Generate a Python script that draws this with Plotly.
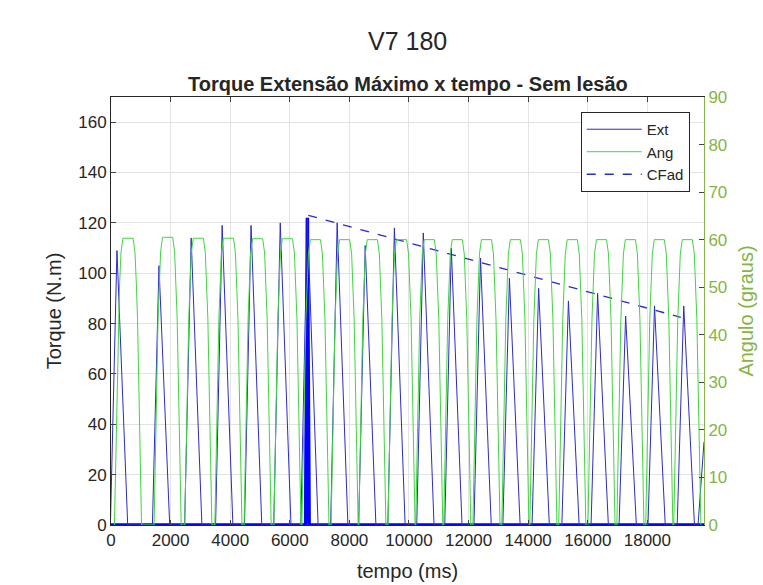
import plotly.graph_objects as go

# ---- data ----
# Ext (torque) cycles: peak time (ms) and peak torque (N.m)
ext_peak_t = [200, 1610, 2690, 3730, 4700, 5680, 6590, 7590, 8530, 9510,
              10480, 11420, 12400, 13370, 14350, 15350, 16330, 17270, 18240, 19220]
ext_peak_v = [109, 103, 114, 119, 119, 120, 122, 120, 111, 118,
              116, 110, 106, 98, 94, 89, 92, 83, 87, 87]
ext_end_t = 19900
ext_end_v = 33

# Ang (angle) humps: centre time (ms) and top angle (graus)
ang_centre_t = [570, 1900, 2930, 3940, 4920, 5920, 6860, 7840, 8770, 9750,
                10680, 11620, 12600, 13570, 14510, 15480, 16460, 17430, 18400, 19340]
ang_top_v = [60.3, 60.5, 60.3, 60.3, 60.2, 60.2, 60.0, 60.0, 60.0, 60.0,
             60.0, 60.0, 60.0, 60.0, 60.0, 60.0, 60.0, 60.0, 60.0, 60.0]

# CFad fatigue line endpoints
cfad_t = [6620, 19120]
cfad_v = [123, 82.5]

# highlighted maximum cycle
max_t = [0, 6530, 6560, 6590, 6620, 6650, 19900]
max_v = [0, 0, 60, 122, 60, 0, 0]

x_ticks = [0, 2000, 4000, 6000, 8000, 10000, 12000, 14000, 16000, 18000]
x_tick_text = ["0", "2000", "4000", "6000", "8000", "10000", "12000", "14000", "16000", "18000"]

# ---- build polylines from read vertices ----
ext_x, ext_y = [0], [0]
for t, v in zip(ext_peak_t, ext_peak_v):
    ext_x += [t - 220, t, t + 360]
    ext_y += [0, v, 0]
ext_x += [ext_end_t - 200, ext_end_t]
ext_y += [0, ext_end_v]

shape_dt = [-455, -320, -285, -235, -170, 170, 235, 285, 320, 455]
shape_fr = [0, 0.72, 0.83, 0.95, 1, 1, 0.95, 0.83, 0.72, 0]
ang_x, ang_y = [], []
for c, v in zip(ang_centre_t, ang_top_v):
    for dt, fr in zip(shape_dt, shape_fr):
        tt = c + dt
        if 0 <= tt <= ext_end_t:
            ang_x.append(tt)
            ang_y.append(v * fr)

EXT_C = "#2a2acb"
ANG_C = "#3cd83c"
AX_G = "#84b545"
FONT = "Liberation Sans, Arial, sans-serif"

fig = go.Figure()
fig.add_trace(go.Scatter(x=max_t, y=max_v, mode="lines",
                         line=dict(color="#0000ff", width=3.5), showlegend=False,
                         hoverinfo="skip"))
fig.add_trace(go.Scatter(x=ext_x, y=ext_y, mode="lines", name="Ext",
                         line=dict(color=EXT_C, width=1)))
fig.add_trace(go.Scatter(x=ang_x, y=ang_y, mode="lines", name="Ang", yaxis="y2",
                         line=dict(color=ANG_C, width=1)))
fig.add_trace(go.Scatter(x=cfad_t, y=cfad_v, mode="lines", name="CFad",
                         line=dict(color=EXT_C, width=1.3, dash="dash")))

fig.update_layout(
    width=763, height=585,
    margin=dict(l=111, r=59, t=97, b=60, autoexpand=False),
    paper_bgcolor="white", plot_bgcolor="white",
    font=dict(family=FONT, size=17, color="#262626"),
    xaxis=dict(range=[0, 19900], tickvals=x_ticks, ticktext=x_tick_text,
               ticks="inside", ticklen=5, automargin=False,
               showgrid=True, gridcolor="#e3e3e3", showline=True, linecolor="#262626",
               mirror="ticks", zeroline=False,
               title=dict(text="tempo (ms)", font=dict(size=20), standoff=14)),
    yaxis=dict(range=[0, 170], tickvals=list(range(0, 161, 20)), ticks="inside",
               ticklen=5, showgrid=True, gridcolor="#e3e3e3", showline=True,
               linecolor="#262626", zeroline=False, automargin=False,
               title=dict(text="Torque (N.m)", font=dict(size=20), standoff=11)),
    yaxis2=dict(range=[0, 90], tickvals=list(range(0, 91, 10)), overlaying="y",
                side="right", ticks="inside", ticklen=5, showgrid=False,
                showline=True, linecolor=AX_G, zeroline=False, automargin=False,
                tickfont=dict(color=AX_G),
                title=dict(text="Angulo (graus)", font=dict(size=20, color=AX_G), standoff=12)),
    legend=dict(x=0.976, y=0.965, xanchor="right", yanchor="top",
                bgcolor="white", bordercolor="#262626", borderwidth=1,
                font=dict(size=15), itemwidth=55, tracegroupgap=0),
    showlegend=True,
    annotations=[
        dict(text="V7 180", x=0.5, xref="paper", y=1.0, yref="paper",
             yanchor="middle", yshift=56, showarrow=False,
             font=dict(size=25, color="#262626")),
        dict(text="<b>Torque Extensão Máximo x tempo - Sem lesão</b>", x=0.5,
             xref="paper", yref="paper", y=1.0, yanchor="middle", yshift=13,
             showarrow=False, font=dict(size=20, color="#262626")),
    ],
)

fig.write_html("out.html", config={"displayModeBar": False},
               post_script="document.body.style.margin='0';document.body.style.overflow='hidden';")
